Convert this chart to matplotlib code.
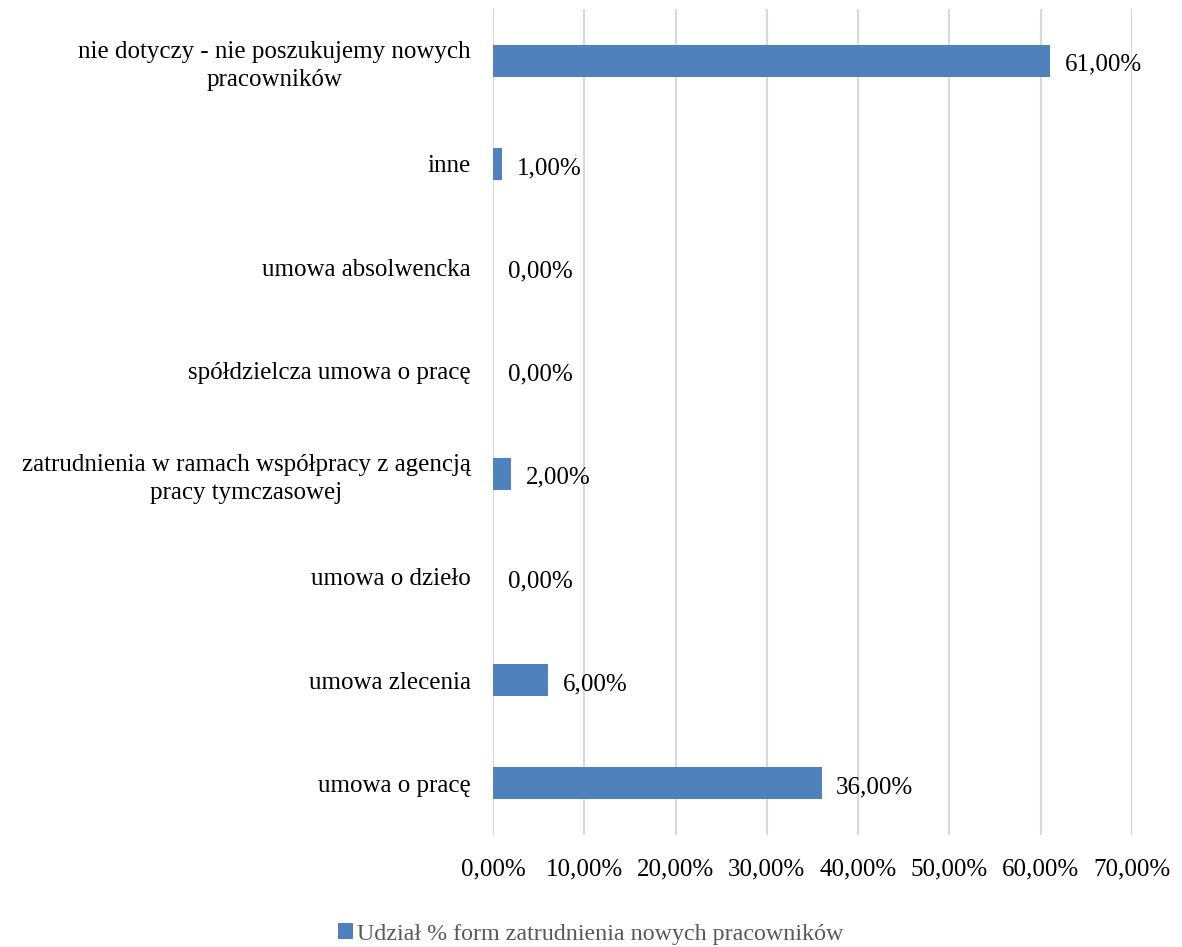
import numpy as np
from matplotlib import pyplot as plt

plt.rcParams['font.family'] = ['Liberation Serif', 'DejaVu Serif']

categories = ['umowa o pracę',
              'umowa zlecenia',
              'umowa o dzieło',
              'zatrudnienia w ramach współpracy z agencją\npracy tymczasowej',
              'spółdzielcza umowa o pracę',
              'umowa absolwencka',
              'inne',
              'nie dotyczy - nie poszukujemy nowych\npracowników']
values = [36, 6, 0, 2, 0, 0, 1, 61]
series_name = 'Udział % form zatrudnienia nowych pracowników'
xticks = [0, 10, 20, 30, 40, 50, 60, 70]

def pct(v):
    return '{:.2f}%'.format(v).replace('.', ',')

fig = plt.figure(figsize=(11.82, 9.47), dpi=100)
ax = fig.add_axes([0.4171, 0.1183, 0.5406, 0.8722])

y = np.arange(len(categories))
bars = ax.barh(y, values, height=0.31, color='#4F81BD', label=series_name, zorder=3)

for yi, v in zip(y, values):
    ax.text(v + 1.6, yi - 0.04, pct(v), va='center', ha='left', fontsize=18, color='#000000')

ax.set_xlim(0, 70)
ax.set_ylim(-0.5, len(categories) - 0.5)
ax.set_xticks(xticks)
ax.set_xticklabels([pct(t) for t in xticks], fontsize=18)
ax.set_yticks(y)
ax.set_yticklabels(categories, fontsize=18, multialignment='center', linespacing=1.35)
ax.tick_params(axis='both', length=0)
ax.tick_params(axis='x', pad=17)
ax.tick_params(axis='y', pad=16)
ax.grid(axis='x', color='#D9D9D9', linewidth=1.5, zorder=0)
for s in ax.spines.values():
    s.set_visible(False)

leg = fig.legend(handles=[bars], labels=[series_name], loc='center',
                 bbox_to_anchor=(0.5, 1 - 934 / 947), frameon=False,
                 fontsize=17.3, handlelength=0.6, handleheight=0.6, handletextpad=0.2)
for t in leg.get_texts():
    t.set_color('#595959')

fig.savefig('out.png', dpi=100)
